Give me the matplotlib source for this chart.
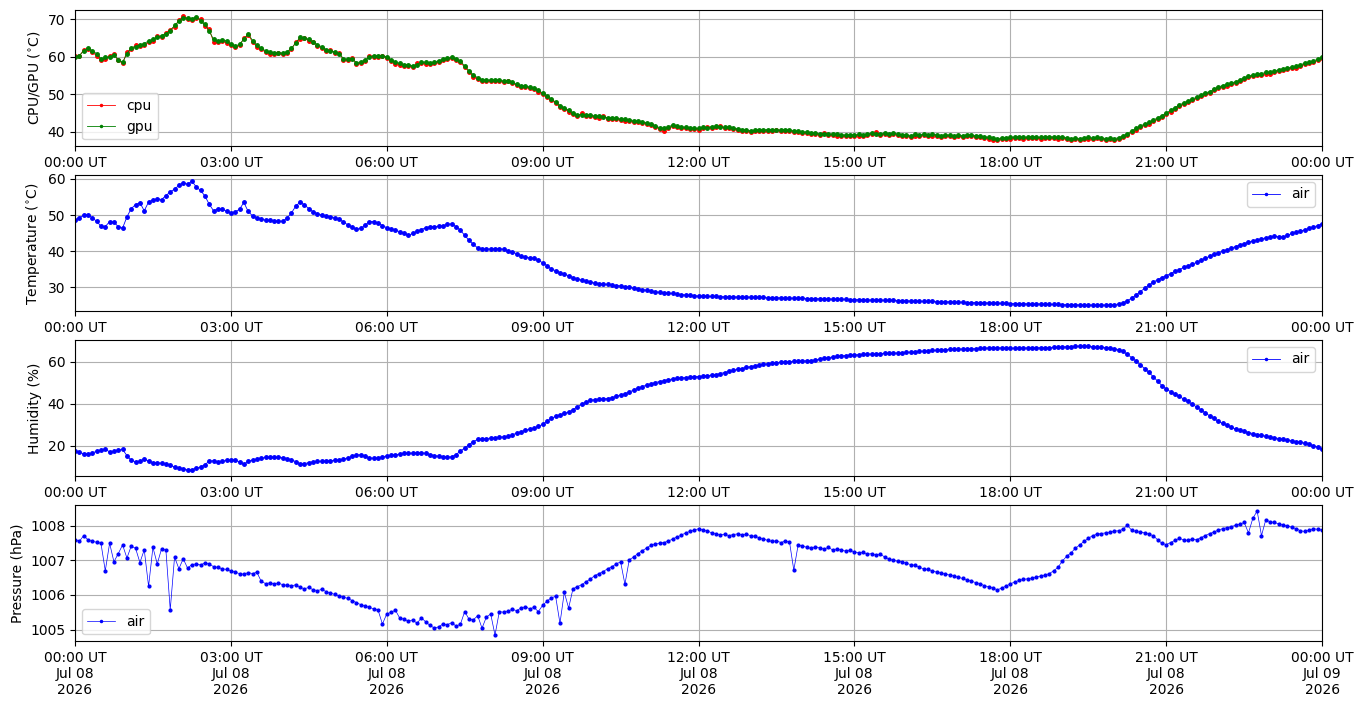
'''Plot one day of sensor readings'''

import numpy as np
import pandas as pd
import matplotlib
matplotlib.use('Agg')
import matplotlib.pyplot as plt
import matplotlib.dates as mdates

# 5 minute samples, 2026-07-08 00:00 .. 2026-07-09 00:00
times = pd.date_range('2026-07-08 00:00', periods=289, freq='5min')

gpu = [
    60.0, 60.3, 61.5, 62.2, 61.6, 60.8, 59.4, 59.8, 59.9, 60.4, 59.2, 58.5,
    60.8, 62.4, 62.7, 63.1, 63.5, 64.2, 64.6, 65.2, 65.6, 66.1, 66.9, 68.3,
    69.4, 70.4, 70.3, 70.1, 70.6, 69.6, 68.6, 66.8, 64.6, 64.2, 64.5, 64.2,
    63.4, 62.8, 63.3, 64.6, 66.1, 64.3, 63.0, 62.2, 61.6, 61.3, 61.0, 60.9,
    61.0, 61.3, 62.3, 63.6, 65.2, 64.9, 64.6, 63.9, 63.2, 62.6, 61.9, 61.5,
    61.3, 60.8, 59.5, 59.3, 59.5, 58.4, 58.6, 59.1, 59.9, 60.3, 60.2, 60.1,
    60.0, 59.1, 58.5, 58.2, 57.9, 57.8, 57.6, 57.9, 58.6, 58.5, 58.3, 58.6,
    58.9, 59.3, 59.6, 59.8, 59.4, 58.8, 57.5, 56.2, 55.1, 54.4, 53.9, 53.7,
    53.8, 53.7, 53.8, 53.5, 53.6, 53.2, 52.6, 52.3, 52.1, 51.9, 51.6, 51.0,
    50.3, 49.6, 48.7, 47.9, 47.0, 46.4, 45.7, 45.0, 44.4, 44.6, 44.5, 44.4,
    44.2, 44.1, 43.9, 43.8, 43.7, 43.6, 43.4, 43.3, 43.2, 43.0, 42.8, 42.6,
    42.4, 42.0, 41.6, 41.1, 40.9, 41.3, 41.8, 41.6, 41.3, 41.2, 41.0, 40.9,
    40.9, 41.2, 41.0, 41.4, 41.5, 41.3, 41.2, 41.3, 41.0, 40.8, 40.6, 40.4,
    40.3, 40.4, 40.6, 40.5, 40.6, 40.5, 40.4, 40.5, 40.6, 40.5, 40.3, 40.1,
    39.9, 40.0, 39.7, 39.6, 39.5, 39.5, 39.4, 39.4, 39.3, 39.2, 39.1, 39.2,
    39.1, 39.3, 39.2, 39.5, 39.6, 39.3, 39.5, 39.7, 39.4, 39.6, 39.4, 39.2,
    39.2, 39.0, 39.3, 39.1, 39.4, 39.2, 39.3, 39.2, 39.0, 39.2, 39.1, 39.0,
    39.1, 39.0, 39.2, 39.1, 39.0, 38.9, 38.7, 38.5, 38.3, 38.2, 38.3, 38.4,
    38.5, 38.6, 38.7, 38.5, 38.6, 38.7, 38.6, 38.5, 38.6, 38.7, 38.6, 38.5,
    38.6, 38.4, 38.2, 38.3, 38.1, 38.4, 38.5, 38.3, 38.6, 38.4, 38.2, 38.3,
    38.2, 38.4, 38.9, 39.5, 40.2, 40.9, 41.6, 42.0, 42.5, 43.1, 43.7, 44.3,
    45.0, 45.7, 46.4, 47.2, 47.6, 48.2, 48.7, 49.2, 49.8, 50.3, 50.7, 51.3,
    51.9, 52.3, 52.6, 53.0, 53.3, 53.8, 54.4, 54.8, 55.1, 55.3, 55.5, 55.8,
    55.8, 56.2, 56.5, 56.8, 57.0, 57.2, 57.4, 57.8, 58.3, 58.6, 58.9, 59.3,
    59.9,
]

cpu = [
    60.2, 60.1, 61.8, 62.0, 61.3, 60.2, 59.0, 59.3, 60.3, 60.6, 59.0, 58.2,
    61.2, 62.0, 63.0, 62.8, 63.0, 63.9, 64.3, 65.5, 65.3, 66.4, 67.2, 68.0,
    69.7, 70.8, 70.0, 69.8, 70.4, 69.9, 68.2, 67.3, 64.0, 63.8, 64.1, 63.7,
    63.1, 62.5, 63.0, 64.9, 65.8, 64.0, 62.6, 62.0, 61.2, 60.8, 60.7, 61.1,
    60.7, 61.1, 62.0, 63.9, 64.8, 65.1, 64.3, 64.0, 62.9, 62.3, 61.6, 61.8,
    61.0, 61.1, 59.1, 59.0, 59.6, 58.0, 58.3, 58.8, 60.2, 60.0, 59.8, 60.3,
    59.7, 58.8, 58.1, 57.9, 57.6, 57.5, 57.3, 58.2, 58.3, 58.1, 58.0, 58.4,
    58.6, 59.0, 59.3, 59.6, 59.2, 58.5, 57.2, 56.0, 54.7, 54.1, 53.6, 53.5,
    53.5, 53.4, 53.5, 53.3, 53.4, 52.9, 52.4, 52.0, 51.8, 51.7, 51.3, 50.7,
    50.0, 49.3, 48.4, 47.6, 46.7, 46.1, 45.3, 44.7, 44.2, 44.9, 44.3, 44.1,
    43.9, 43.8, 44.3, 43.5, 43.4, 43.3, 43.1, 43.0, 42.9, 42.7, 42.6, 42.4,
    42.1, 41.8, 41.3, 40.8, 40.2, 41.0, 41.5, 41.3, 41.0, 40.9, 40.7, 40.7,
    40.6, 40.9, 41.3, 41.1, 41.2, 41.6, 40.9, 41.0, 40.7, 40.5, 40.3, 40.1,
    40.0, 40.1, 40.3, 40.2, 40.3, 40.2, 40.6, 40.2, 40.3, 40.2, 40.0, 39.9,
    39.6, 39.7, 39.5, 39.3, 39.2, 39.7, 39.1, 39.1, 39.0, 38.9, 38.8, 38.9,
    38.8, 39.0, 38.9, 39.2, 39.3, 39.9, 39.2, 39.4, 39.1, 39.3, 39.1, 38.9,
    38.9, 38.7, 39.0, 38.8, 39.1, 38.9, 39.0, 38.9, 38.7, 38.9, 38.8, 38.7,
    38.8, 38.7, 38.9, 38.8, 38.7, 38.6, 38.4, 38.2, 37.9, 37.8, 38.0, 38.1,
    38.2, 38.3, 38.4, 38.2, 38.3, 38.4, 38.3, 38.2, 38.3, 38.4, 38.3, 38.2,
    38.3, 38.1, 37.9, 38.0, 37.8, 38.1, 38.2, 38.0, 38.3, 38.1, 37.9, 38.0,
    37.9, 38.1, 38.6, 39.2, 39.9, 40.6, 41.3, 41.8, 42.2, 42.8, 43.4, 44.0,
    44.7, 45.4, 46.1, 46.9, 47.3, 47.9, 48.4, 48.9, 49.5, 50.0, 50.4, 51.0,
    51.6, 52.0, 52.3, 52.7, 53.0, 53.5, 54.1, 54.5, 54.8, 55.0, 55.2, 55.5,
    55.5, 55.9, 56.2, 56.5, 56.7, 56.9, 57.1, 57.5, 58.0, 58.3, 58.6, 59.0,
    59.6,
]

air_temp = [
    48.5, 49.3, 49.9, 50.1, 49.2, 48.3, 46.9, 46.8, 48.2, 48.0, 46.8, 46.4,
    49.5, 51.8, 52.9, 53.4, 51.2, 53.6, 54.2, 54.5, 54.3, 55.4, 56.4, 57.2,
    58.2, 59.0, 58.5, 59.4, 57.8, 56.8, 55.3, 53.0, 51.2, 51.7, 51.6, 51.1,
    50.5, 50.9, 51.6, 53.5, 51.0, 49.8, 49.3, 48.9, 48.6, 48.5, 48.4, 48.3,
    48.3, 49.2, 50.6, 52.5, 53.6, 52.8, 51.8, 50.9, 50.4, 50.0, 49.8, 49.5,
    49.3, 48.9, 48.1, 47.3, 46.6, 46.1, 46.3, 47.2, 48.2, 48.2, 47.8, 47.1,
    46.5, 46.1, 45.8, 45.4, 45.0, 44.4, 44.9, 45.5, 46.0, 46.5, 46.8, 46.8,
    46.9, 47.1, 47.4, 47.6, 46.8, 45.8, 44.4, 43.0, 41.9, 40.9, 40.5, 40.6,
    40.6, 40.7, 40.7, 40.5, 40.1, 39.8, 39.3, 38.7, 38.3, 38.2, 38.0, 37.5,
    36.8, 36.0, 35.1, 34.6, 34.1, 33.7, 33.2, 32.7, 32.3, 32.0, 31.7, 31.4,
    31.2, 31.0, 30.9, 30.8, 30.7, 30.5, 30.4, 30.2, 30.0, 29.8, 29.6, 29.4,
    29.2, 29.0, 28.8, 28.6, 28.5, 28.4, 28.3, 28.1, 28.0, 27.9, 27.8, 27.7,
    27.6, 27.6, 27.5, 27.5, 27.5, 27.4, 27.4, 27.4, 27.4, 27.3, 27.3, 27.3,
    27.3, 27.2, 27.2, 27.2, 27.1, 27.1, 27.1, 27.1, 27.0, 27.0, 27.0, 27.0,
    27.0, 26.9, 26.9, 26.9, 26.8, 26.8, 26.8, 26.7, 26.7, 26.7, 26.7, 26.6,
    26.6, 26.6, 26.6, 26.5, 26.5, 26.5, 26.5, 26.4, 26.4, 26.4, 26.3, 26.3,
    26.3, 26.2, 26.2, 26.2, 26.1, 26.1, 26.1, 26.0, 26.0, 26.0, 26.0, 25.9,
    25.9, 25.9, 25.8, 25.8, 25.8, 25.8, 25.7, 25.7, 25.7, 25.6, 25.6, 25.6,
    25.5, 25.5, 25.5, 25.5, 25.4, 25.4, 25.4, 25.4, 25.3, 25.3, 25.3, 25.3,
    25.2, 25.2, 25.2, 25.2, 25.1, 25.1, 25.1, 25.1, 25.1, 25.1, 25.1, 25.2,
    25.2, 25.4, 25.7, 26.3, 27.0, 27.8, 28.8, 29.7, 30.6, 31.4, 32.1, 32.7,
    33.2, 33.8, 34.4, 34.9, 35.5, 36.0, 36.4, 36.9, 37.5, 38.0, 38.6, 39.1,
    39.6, 40.0, 40.4, 40.8, 41.3, 41.7, 42.1, 42.5, 42.8, 43.1, 43.4, 43.7,
    44.0, 44.1, 44.0, 43.9, 44.4, 44.9, 45.3, 45.6, 45.9, 46.3, 46.7, 47.1,
    47.6,
]

air_hum = [
    17.5, 16.8, 16.2, 16.0, 16.6, 17.3, 17.9, 18.5, 17.0, 17.3, 18.0, 18.2,
    15.3, 13.0, 12.4, 12.5, 13.8, 12.6, 11.9, 11.8, 11.7, 11.3, 10.6, 9.9,
    9.5, 9.1, 8.4, 8.6, 9.3, 9.8, 11.0, 12.6, 12.9, 12.3, 12.6, 13.0,
    13.2, 13.3, 12.2, 11.2, 12.5, 13.2, 13.6, 14.0, 14.4, 14.6, 14.5, 14.4,
    14.3, 13.9, 13.3, 12.4, 11.3, 11.4, 12.0, 12.3, 12.5, 12.6, 12.7, 12.9,
    13.0, 13.2, 13.6, 14.2, 14.9, 15.6, 15.7, 15.0, 14.2, 14.0, 14.2, 14.7,
    15.1, 15.4, 15.7, 16.0, 16.3, 16.4, 16.5, 16.6, 16.7, 16.3, 15.8, 15.3,
    15.0, 14.8, 14.6, 14.7, 15.8, 17.4, 18.9, 20.5, 22.0, 23.0, 23.2, 23.4,
    23.6, 23.8, 24.0, 24.3, 24.5, 25.2, 26.0, 26.7, 27.3, 27.9, 28.4, 29.2,
    30.2, 31.6, 33.0, 34.0, 34.8, 35.4, 36.0, 37.2, 38.5, 39.8, 40.8, 41.6,
    42.0, 42.2, 42.3, 42.5, 42.9, 43.5, 44.2, 44.8, 45.6, 46.5, 47.4, 48.2,
    48.9, 49.5, 50.1, 50.6, 51.0, 51.5, 51.8, 52.1, 52.3, 52.5, 52.7, 53.0,
    53.0, 53.2, 53.4, 53.6, 53.9, 54.4, 54.9, 55.4, 55.9, 56.4, 56.8, 57.3,
    57.7, 58.1, 58.5, 58.8, 59.1, 59.4, 59.6, 59.8, 60.0, 60.1, 60.2, 60.3,
    60.4, 60.5, 60.6, 60.9, 61.3, 61.7, 62.0, 62.3, 62.6, 62.8, 63.0, 63.2,
    63.3, 63.4, 63.5, 63.6, 63.7, 63.8, 63.9, 64.0, 64.0, 64.1, 64.2, 64.3,
    64.5, 64.6, 64.8, 65.0, 65.1, 65.3, 65.4, 65.5, 65.7, 65.8, 65.9, 65.9,
    66.0, 66.1, 66.1, 66.2, 66.3, 66.4, 66.5, 66.6, 66.7, 66.7, 66.6, 66.5,
    66.5, 66.5, 66.6, 66.6, 66.6, 66.7, 66.7, 66.7, 66.8, 66.8, 66.9, 67.0,
    67.1, 67.2, 67.3, 67.4, 67.5, 67.5, 67.4, 67.2, 67.0, 66.9, 66.8, 66.6,
    66.3, 65.8, 65.0, 63.6, 62.0, 60.4, 58.6, 56.8, 55.0, 52.9, 50.8, 48.7,
    47.0, 45.8, 44.6, 43.5, 42.3, 41.1, 39.8, 38.5, 37.1, 35.7, 34.3, 33.0,
    31.6, 30.6, 29.7, 28.8, 28.0, 27.4, 26.8, 26.3, 25.8, 25.3, 24.9, 24.5,
    24.2, 23.8, 23.4, 23.1, 22.7, 22.4, 22.0, 21.6, 21.2, 20.7, 20.0, 19.3,
    18.6,
]

air_press = [
    1007.60, 1007.55, 1007.72, 1007.60, 1007.55, 1007.53, 1007.50, 1006.70, 1007.50, 1006.96, 1007.20, 1007.45,
    1007.07, 1007.42, 1007.35, 1006.94, 1007.31, 1006.25, 1007.38, 1006.90, 1007.34, 1007.30, 1005.57, 1007.10,
    1006.76, 1007.05, 1006.78, 1006.88, 1006.90, 1006.87, 1006.93, 1006.90, 1006.82, 1006.80, 1006.76, 1006.74,
    1006.70, 1006.66, 1006.62, 1006.60, 1006.65, 1006.62, 1006.66, 1006.40, 1006.33, 1006.35, 1006.32, 1006.34,
    1006.30, 1006.28, 1006.26, 1006.30, 1006.22, 1006.18, 1006.22, 1006.15, 1006.13, 1006.16, 1006.10, 1006.05,
    1006.02, 1005.97, 1005.94, 1005.90, 1005.84, 1005.78, 1005.72, 1005.68, 1005.64, 1005.60, 1005.56, 1005.16,
    1005.45, 1005.50, 1005.56, 1005.33, 1005.30, 1005.24, 1005.28, 1005.18, 1005.34, 1005.22, 1005.12, 1005.04,
    1005.08, 1005.16, 1005.14, 1005.20, 1005.10, 1005.15, 1005.52, 1005.30, 1005.28, 1005.40, 1005.04, 1005.36,
    1005.45, 1004.84, 1005.52, 1005.50, 1005.54, 1005.58, 1005.55, 1005.62, 1005.66, 1005.60, 1005.64, 1005.52,
    1005.70, 1005.82, 1005.92, 1005.96, 1005.18, 1006.08, 1005.62, 1006.18, 1006.24, 1006.30, 1006.38, 1006.46,
    1006.56, 1006.62, 1006.68, 1006.76, 1006.82, 1006.90, 1006.96, 1006.31, 1007.02, 1007.10, 1007.20, 1007.28,
    1007.36, 1007.44, 1007.47, 1007.50, 1007.52, 1007.56, 1007.62, 1007.68, 1007.73, 1007.80, 1007.84, 1007.88,
    1007.92, 1007.88, 1007.86, 1007.80, 1007.78, 1007.74, 1007.76, 1007.72, 1007.75, 1007.77, 1007.74, 1007.76,
    1007.72, 1007.70, 1007.66, 1007.62, 1007.58, 1007.55, 1007.57, 1007.52, 1007.56, 1007.54, 1006.72, 1007.45,
    1007.42, 1007.38, 1007.35, 1007.40, 1007.36, 1007.33, 1007.38, 1007.30, 1007.34, 1007.30, 1007.27, 1007.29,
    1007.25, 1007.22, 1007.24, 1007.18, 1007.20, 1007.15, 1007.18, 1007.10, 1007.04, 1007.00, 1006.98, 1006.96,
    1006.92, 1006.88, 1006.86, 1006.80, 1006.76, 1006.74, 1006.70, 1006.66, 1006.64, 1006.60, 1006.58, 1006.55,
    1006.51, 1006.48, 1006.44, 1006.40, 1006.36, 1006.33, 1006.27, 1006.24, 1006.20, 1006.15, 1006.20, 1006.26,
    1006.32, 1006.38, 1006.42, 1006.45, 1006.47, 1006.48, 1006.52, 1006.55, 1006.58, 1006.62, 1006.70, 1006.80,
    1006.98, 1007.12, 1007.22, 1007.35, 1007.45, 1007.55, 1007.64, 1007.72, 1007.76, 1007.78, 1007.80, 1007.82,
    1007.85, 1007.86, 1007.90, 1008.02, 1007.88, 1007.84, 1007.82, 1007.80, 1007.76, 1007.72, 1007.60, 1007.50,
    1007.46, 1007.52, 1007.58, 1007.64, 1007.60, 1007.58, 1007.62, 1007.60, 1007.66, 1007.72, 1007.78, 1007.82,
    1007.88, 1007.92, 1007.95, 1007.98, 1008.02, 1008.05, 1008.10, 1007.80, 1008.22, 1008.43, 1007.72, 1008.18,
    1008.12, 1008.10, 1008.06, 1008.02, 1008.00, 1007.96, 1007.92, 1007.86, 1007.84, 1007.88, 1007.92, 1007.90,
    1007.88,
]

style = dict(marker='.', markersize=5, linewidth=0.6)

fig, axs = plt.subplots(4, 1, figsize=(13.63, 7.07), dpi=100)
plt.subplots_adjust(left=0.055, right=0.970, top=0.986, bottom=0.093, hspace=0.21)

axs[0].plot(times, cpu, color='r', label='cpu', **style)
axs[0].plot(times, gpu, color='g', label='gpu', **style)
axs[0].set_ylabel(r'CPU/GPU ($^{\circ}$C)')
axs[0].legend(loc='lower left', markerscale=0.6)

axs[1].plot(times, air_temp, color='b', label='air', **style)
axs[1].set_ylabel(r'Temperature ($^{\circ}$C)')
axs[1].legend(loc='upper right', markerscale=0.6)

axs[2].plot(times, air_hum, color='b', label='air', **style)
axs[2].set_ylabel('Humidity (%)')
axs[2].legend(loc='upper right', markerscale=0.6)

axs[3].plot(times, air_press, color='b', label='air', marker='.', markersize=4, linewidth=0.5)
axs[3].set_ylabel('Pressure (hPa)')
axs[3].legend(loc='lower left', markerscale=0.75)

for i, ax in enumerate(axs):
    ax.set_xlim(times[0], times[-1])
    ax.xaxis.set_major_locator(mdates.HourLocator(byhour=range(0, 24, 3)))
    if i < 3:
        ax.xaxis.set_major_formatter(mdates.DateFormatter('%H:%M UT'))
    else:
        ax.xaxis.set_major_formatter(mdates.DateFormatter('%H:%M UT\n%b %d\n%Y'))
    ax.grid(True)

plt.savefig('out.png')
